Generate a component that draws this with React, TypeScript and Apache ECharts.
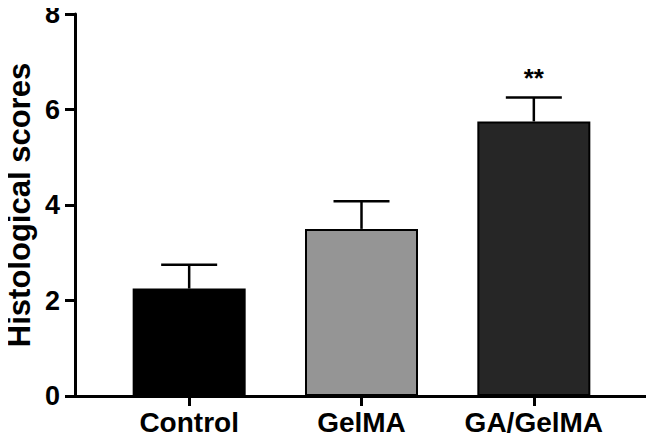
import React, { useEffect, useRef } from "react";
import * as echarts from "echarts";

const categories = ["Control", "GelMA", "GA/GelMA"];
const means = [2.25, 3.5, 5.75];
const errors = [0.5, 0.58, 0.5];
const significance = ["", "", "**"];
const barColors = ["#000000", "#959595", "#262626"];
const yTicks = [0, 2, 4, 6, 8];

const FONT = "'Liberation Sans', Arial, Helvetica, sans-serif";

export default function App() {
  const ref = useRef<HTMLDivElement>(null);
  useEffect(() => {
    if (!ref.current) return;
    const chart = echarts.init(ref.current, undefined, { renderer: "svg" });
    const option = {
      animation: false,
      backgroundColor: "#ffffff",
      grid: [
        { left: 75, right: 4, top: 14, bottom: 45, containLabel: false, outerBoundsMode: "none" },
        { left: 103, right: 34, top: 14, bottom: 45, containLabel: false, outerBoundsMode: "none" },
      ],
      xAxis: [
        {
          type: "value",
          gridIndex: 0,
          min: 0,
          max: 1,
          axisLine: { show: true, onZero: false, lineStyle: { color: "#000", width: 3 } },
          axisTick: { show: false },
          axisLabel: { show: false },
          splitLine: { show: false },
        },
        {
          type: "category",
          gridIndex: 1,
          data: categories,
          axisLine: { show: false },
          axisTick: {
            show: true,
            alignWithLabel: true,
            length: 10,
            lineStyle: { color: "#000", width: 3 },
          },
          axisLabel: {
            color: "#000",
            fontFamily: FONT,
            fontWeight: "bold",
            fontSize: 28,
            margin: 12,
            interval: 0,
          },
        },
      ],
      yAxis: [
        {
          type: "value",
          gridIndex: 0,
          min: yTicks[0],
          max: yTicks[yTicks.length - 1],
          interval: 2,
          name: "Histological scores",
          nameLocation: "middle",
          nameGap: 40,
          nameMoveOverlap: false,
          nameTextStyle: {
            color: "#000",
            fontFamily: FONT,
            fontWeight: "bold",
            fontSize: 31,
          },
          axisLine: { show: true, lineStyle: { color: "#000", width: 3 } },
          axisTick: { show: true, length: 10, lineStyle: { color: "#000", width: 3 } },
          axisLabel: {
            color: "#000",
            fontFamily: FONT,
            fontWeight: "bold",
            fontSize: 27,
            margin: 15,
          },
          splitLine: { show: false },
        },
        {
          type: "value",
          gridIndex: 1,
          min: yTicks[0],
          max: yTicks[yTicks.length - 1],
          show: false,
          splitLine: { show: false },
        },
      ],
      series: [
        {
          type: "bar",
          xAxisIndex: 1,
          yAxisIndex: 1,
          barWidth: 113,
          z: 3,
          data: means.map((v, i) => ({
            value: v,
            itemStyle: { color: barColors[i], borderColor: "#000", borderWidth: 2 },
          })),
        },
        {
          type: "custom",
          xAxisIndex: 1,
          yAxisIndex: 1,
          z: 4,
          data: means.map((m, i) => [i, m, errors[i]]),
          renderItem: (params: any, api: any) => {
            const i = api.value(0);
            const m = api.value(1);
            const e = api.value(2);
            const base = api.coord([i, m]);
            const top = api.coord([i, m + e]);
            const half = 28;
            const style = { stroke: "#000", lineWidth: 2.5, fill: "none" };
            const children: any[] = [
              { type: "line", shape: { x1: base[0], y1: base[1], x2: top[0], y2: top[1] }, style },
              {
                type: "line",
                shape: { x1: top[0] - half, y1: top[1], x2: top[0] + half, y2: top[1] },
                style,
              },
            ];
            const sig = significance[params.dataIndex];
            if (sig) {
              children.push({
                type: "text",
                x: top[0],
                y: top[1] - 7,
                style: {
                  text: sig,
                  fill: "#000",
                  font: `bold 26px ${FONT}`,
                  textAlign: "center",
                  textVerticalAlign: "bottom",
                },
              });
            }
            return { type: "group", children };
          },
        },
      ],
    };
    chart.setOption(option);
    return () => chart.dispose();
  }, []);
  return <div ref={ref} style={{ width: 654, height: 441, margin: -8 }} />;
}
